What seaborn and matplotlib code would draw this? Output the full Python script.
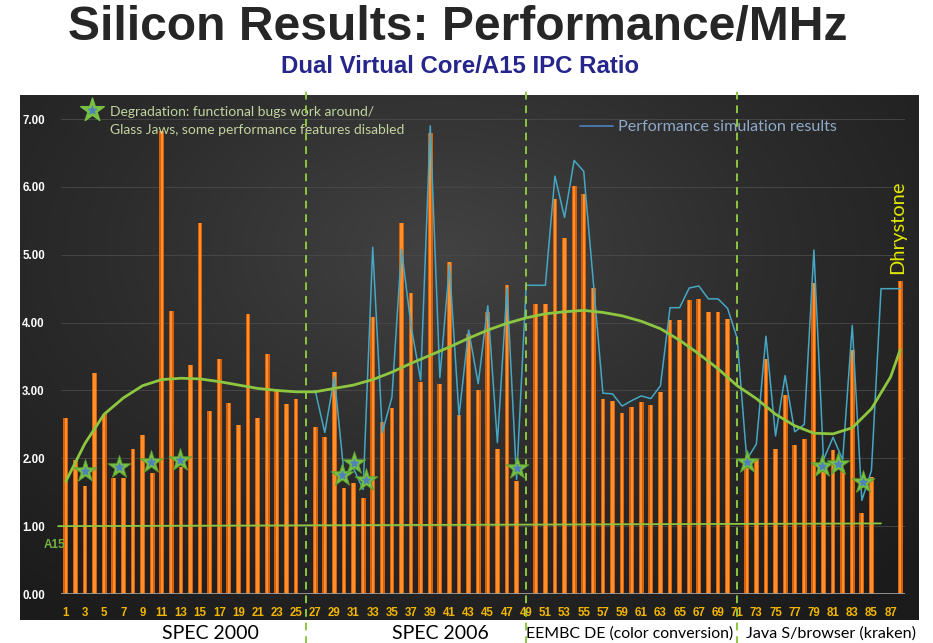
import numpy as np
import pandas as pd
import matplotlib
matplotlib.use('Agg')
import matplotlib.pyplot as plt
import seaborn as sns
from matplotlib.colors import LinearSegmentedColormap

sns.set_style("white")
plt.rcParams['font.family'] = ['Liberation Sans', 'DejaVu Sans']

nan = np.nan

# ---------------- data ----------------
# 88 slots on the x axis, labels on the odd ones; empty slots are section breaks
slots = list(range(1, 89))
tick_labels = [str(i) for i in range(1, 88, 2)]

ipc = [2.60, 1.98, 1.59, 3.26, 2.65, 1.71, 1.71, 2.14, 2.34, 1.78,
       6.82, 4.17, 1.87, 3.38, 5.47, 2.69, 3.47, 2.81, 2.49, 4.12,
       2.59, 3.53, 3.02, 2.80, 2.88, nan, 2.46, 2.31, 3.27, 1.56,
       1.64, 1.41, 4.08, 2.54, 2.74, 5.47, 4.44, 3.12, 6.79, 3.09,
       4.89, 2.64, 3.83, 3.01, 4.15, 2.14, 4.55, 1.66, nan, 4.28,
       4.28, 5.82, 5.24, 6.02, 5.89, 4.51, 2.87, 2.84, 2.67, 2.76,
       2.83, 2.79, 2.97, 4.04, 4.04, 4.33, 4.35, 4.16, 4.16, 4.06,
       nan, 1.85, 1.99, 3.46, 2.14, 2.94, 2.20, 2.28, 4.58, 1.85,
       2.12, 1.83, 3.59, 1.20, 1.72, nan, nan, 4.62]

simulation = [nan] * 26 + [
    3.00, 2.38, 3.20, 1.78, 1.85, 1.54, 5.11, 2.38, 2.90, 5.08,
    3.95, 3.15, 6.90, 3.19, 4.85, 2.63, 3.89, 3.10, 4.25, 2.23,
    4.51, 1.69, 4.55, 4.55, 4.55, 6.16, 5.55, 6.39, 6.23, 4.60,
    2.96, 2.95, 2.77, 2.85, 2.92, 2.88, 3.07, 4.22, 4.22, 4.51,
    4.54, 4.35, 4.35, 4.21, 3.77, 1.98, 2.21, 3.80, 2.33, 3.22,
    2.39, 2.50, 5.07, 1.98, 2.31, 1.98, 3.96, 1.38, 1.82, 4.50,
    4.50, 4.50]

trend_slots = list(range(1, 88, 2)) + [88]
trend = [1.66, 2.22, 2.65, 2.89, 3.07, 3.16, 3.18, 3.17, 3.13, 3.08,
         3.03, 3.00, 2.98, 2.98, 3.03, 3.08, 3.16, 3.27, 3.40, 3.52,
         3.64, 3.77, 3.89, 3.99, 4.07, 4.13, 4.16, 4.18, 4.15, 4.10,
         4.02, 3.91, 3.74, 3.54, 3.32, 3.07, 2.88, 2.65, 2.48, 2.37,
         2.36, 2.45, 2.73, 3.20, 3.60]

star_slots = [3, 6.5, 9.9, 12.9, 29.8, 31, 32.3, 48, 72, 79.8, 81.5, 84.1]
star_vals = [1.81, 1.87, 1.94, 1.98, 1.75, 1.93, 1.68, 1.85, 1.94, 1.88, 1.92, 1.65]

a15_slots = [0.2, 86.0]
a15_vals = [1.00, 1.04]

divider_slots = [26, 49, 71]
sections = ['SPEC 2000', 'SPEC 2006', 'EEMBC DE (color conversion)', 'Java S/browser (kraken)']

# ---------------- figure ----------------
fig = plt.figure(figsize=(9.33, 6.43), dpi=100)
fig.patch.set_facecolor('white')

# dark panel with a soft radial glow
bg = fig.add_axes([0.0214, 0.0358, 0.9625, 0.8165])
gx, gy = np.meshgrid(np.linspace(0, 1, 300), np.linspace(0, 1, 200))
r = np.sqrt(((gx - 0.47) / 0.75) ** 2 + ((gy - 0.30) / 0.85) ** 2)
glow = LinearSegmentedColormap.from_list('glow', ['#424242', '#2c2c2c', '#1b1b1b'])
bg.imshow(np.clip(r, 0, 1), cmap=glow, aspect='auto', extent=(0, 1, 1, 0))
bg.set_axis_off()

ax = fig.add_axes([0.0654, 0.0762, 0.9046, 0.776])
ax.set_facecolor('none')

# orange bars: darker body plus a bright core for the cylinder look
df = pd.DataFrame({'slot': slots, 'ipc': ipc})
sns.barplot(data=df, x='slot', y='ipc', order=slots, color='#d8600a',
            width=0.5, saturation=1, errorbar=None, linewidth=0,
            edgecolor='none', ax=ax, zorder=2)
sns.barplot(data=df, x='slot', y='ipc', order=slots, color='#ff8f2a',
            width=0.24, saturation=1, errorbar=None, linewidth=0,
            edgecolor='none', ax=ax, zorder=2)

pos = np.arange(len(slots))
ax.plot(pos, simulation, color='#45a7c4', lw=1.1, zorder=3)
ax.plot(np.array(trend_slots) - 1, trend, color='#8dc63f', lw=2, zorder=4)
ax.plot(np.array(a15_slots) - 1, a15_vals, color='#8dc63f', lw=1.3, zorder=4,
        clip_on=False)

sx = np.array(star_slots) - 1
ax.scatter(sx, star_vals, marker='*', s=300, color='#78c043',
           edgecolor='#5a9e2e', linewidth=0.6, zorder=6)
ax.scatter(sx, star_vals, marker='*', s=30, color='#4f81bd', zorder=7)

for d in divider_slots:
    ax.axvline(d - 1, ymin=-0.108, ymax=1.01, clip_on=False, color='#8dc63f',
               ls=(0, (4, 3)), lw=1.4, zorder=5)

# grid + axes
ax.set_ylim(0, 7.354)
ax.set_xlim(-0.5, 87.5)
ax.set_yticks(range(0, 8))
ax.set_yticklabels([f'{v:.2f}' for v in range(0, 8)])
ax.set_xticks(range(0, 88, 2))
ax.set_xticklabels(tick_labels)
for v in range(1, 8):
    ax.axhline(v, color='#4a4a4a', lw=0.6, zorder=1)
ax.axhline(0, color='#9a9a9a', lw=1.3, zorder=3)
for s in ax.spines.values():
    s.set_visible(False)
ax.set_xlabel('')
ax.set_ylabel('')
ax.tick_params(axis='x', length=0, pad=9, colors='#f2b600', labelsize=8.3)
ax.tick_params(axis='y', length=0, pad=28, colors='white', labelsize=8.3)
for lbl in ax.get_xticklabels() + ax.get_yticklabels():
    lbl.set_fontweight('bold')
for lbl in ax.get_yticklabels():
    lbl.set_ha('left')

# in-chart annotations
ax.scatter([0.0367], [0.970], marker='*', s=320, color='#78c043',
           transform=ax.transAxes, clip_on=False, zorder=7)
ax.scatter([0.0367], [0.970], marker='*', s=32, color='#4f81bd',
           transform=ax.transAxes, clip_on=False, zorder=8)
ax.text(0.058, 0.948, 'Degradation: functional bugs work around/\nGlass Jaws, some performance features disabled',
        transform=ax.transAxes, ha='left', va='center', fontsize=10,
        color='#c3d4a0', family=['Lato', 'DejaVu Sans'], linespacing=1.55)
ax.plot([0.615, 0.654], [0.937, 0.937], color='#4f81bd', lw=1.2,
        transform=ax.transAxes, clip_on=False)
ax.text(0.66, 0.935, 'Performance simulation results', transform=ax.transAxes,
        ha='left', va='center', fontsize=11.6, color='#8fa9c8',
        family=['Lato', 'DejaVu Sans'])
ax.text(0.991, 0.735, 'Dhrystone', transform=ax.transAxes, rotation=90,
        ha='center', va='center', fontsize=14.5, color='#e0e600',
        family=['Lato', 'DejaVu Sans'])
ax.text(-0.008, 0.098, 'A15', transform=ax.transAxes, ha='center', va='center',
        fontsize=8.5, fontweight='bold', color='#73b23f')

# titles and section names
fig.text(0.491, 0.957, 'Silicon Results: Performance/MHz', ha='center',
         va='center', fontsize=34.6, fontweight='bold', color='#262626')
fig.text(0.493, 0.896, 'Dual Virtual Core/A15 IPC Ratio', ha='center',
         va='center', fontsize=17.3, fontweight='bold', color='#25258c')
sec_x = [210, 440, 630, 831]
sec_size = [14, 14, 11.4, 11.6]
for name, x, fs in zip(sections, sec_x, sec_size):
    fig.text(x / 933, 0.0145, name, ha='center', va='center', fontsize=fs,
             color='black', family=['Lato', 'DejaVu Sans'])

fig.savefig('out.png', dpi=100)
